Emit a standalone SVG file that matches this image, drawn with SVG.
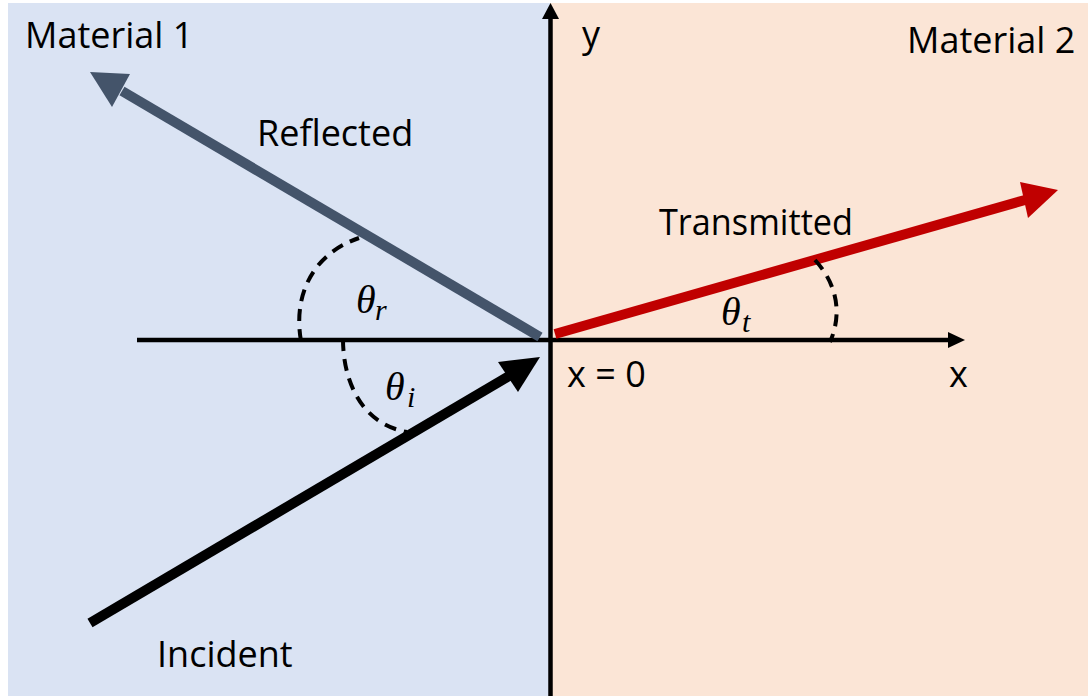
<svg xmlns="http://www.w3.org/2000/svg" width="1088" height="696" viewBox="0 0 1088 696">
<style>
.lbl{font-family:"Open Sans","Liberation Sans",sans-serif;font-size:36px;fill:#000}
.math{font-family:"Liberation Serif","DejaVu Serif",serif;font-style:italic;fill:#000}
.axis{stroke:#000;stroke-width:4.5;fill:none}
.dash{stroke:#000;stroke-width:4;fill:none;stroke-dasharray:12 8}
</style>
<rect x="0" y="0" width="1088" height="696" fill="#fff"/>
<g id="material1"><rect x="8" y="3" width="542" height="693" fill="#DAE3F3"/><text class="lbl" x="25" y="48">Material 1</text></g>
<g id="material2"><rect x="550" y="3" width="538" height="693" fill="#FBE5D6"/><text class="lbl" x="907" y="53">Material 2</text></g>
<g id="axes">
<line class="axis" x1="550.5" y1="696" x2="550.5" y2="17"/>
<polygon points="550.5,3 542,19 559,19" fill="#000"/>
<line class="axis" x1="137" y1="340" x2="950" y2="340"/>
<polygon points="965,340 948,332 948,348" fill="#000"/>
<text class="lbl" x="582" y="47">y</text>
<text class="lbl" x="949" y="387">x</text>
<text class="lbl" x="567" y="387">x = 0</text>
</g>
<g id="connectors">
<g id="reflected">
<line x1="540" y1="337" x2="122" y2="91" stroke="#44546A" stroke-width="10"/>
<polygon points="90,72 130,74 112,107" fill="#44546A"/>
</g>
<g id="incident">
<line x1="90" y1="623" x2="509" y2="376" stroke="#000" stroke-width="10"/>
<polygon points="540,357 498,362 518,392" fill="#000"/>
</g>
<g id="transmitted">
<line x1="555" y1="334" x2="1025" y2="200" stroke="#C00000" stroke-width="10"/>
<polygon points="1058,190 1020,182 1028,218" fill="#C00000"/>
</g>
</g>
<g id="arcs">
<path class="dash" d="M301,341 C293,296 312,254 359,238"/>
<path class="dash" d="M343,339 C343,382 362,424 407,432"/>
<path class="dash" d="M815,260 C838,285 842,315 830,342"/>
</g>
<g id="labels">
<text class="lbl" x="257" y="146">Reflected</text>
<text class="lbl" x="659" y="235" textLength="194" lengthAdjust="spacingAndGlyphs">Transmitted</text>
<text class="lbl" x="157" y="667">Incident</text>
<text class="math" font-size="40" x="356" y="313">θ<tspan font-size="30" x="375" y="320">r</tspan></text>
<text class="math" font-size="40" x="385" y="400">θ<tspan font-size="30" x="407" y="407">i</tspan></text>
<text class="math" font-size="40" x="721" y="325">θ<tspan font-size="30" x="742" y="332">t</tspan></text>
</g>
</svg>
